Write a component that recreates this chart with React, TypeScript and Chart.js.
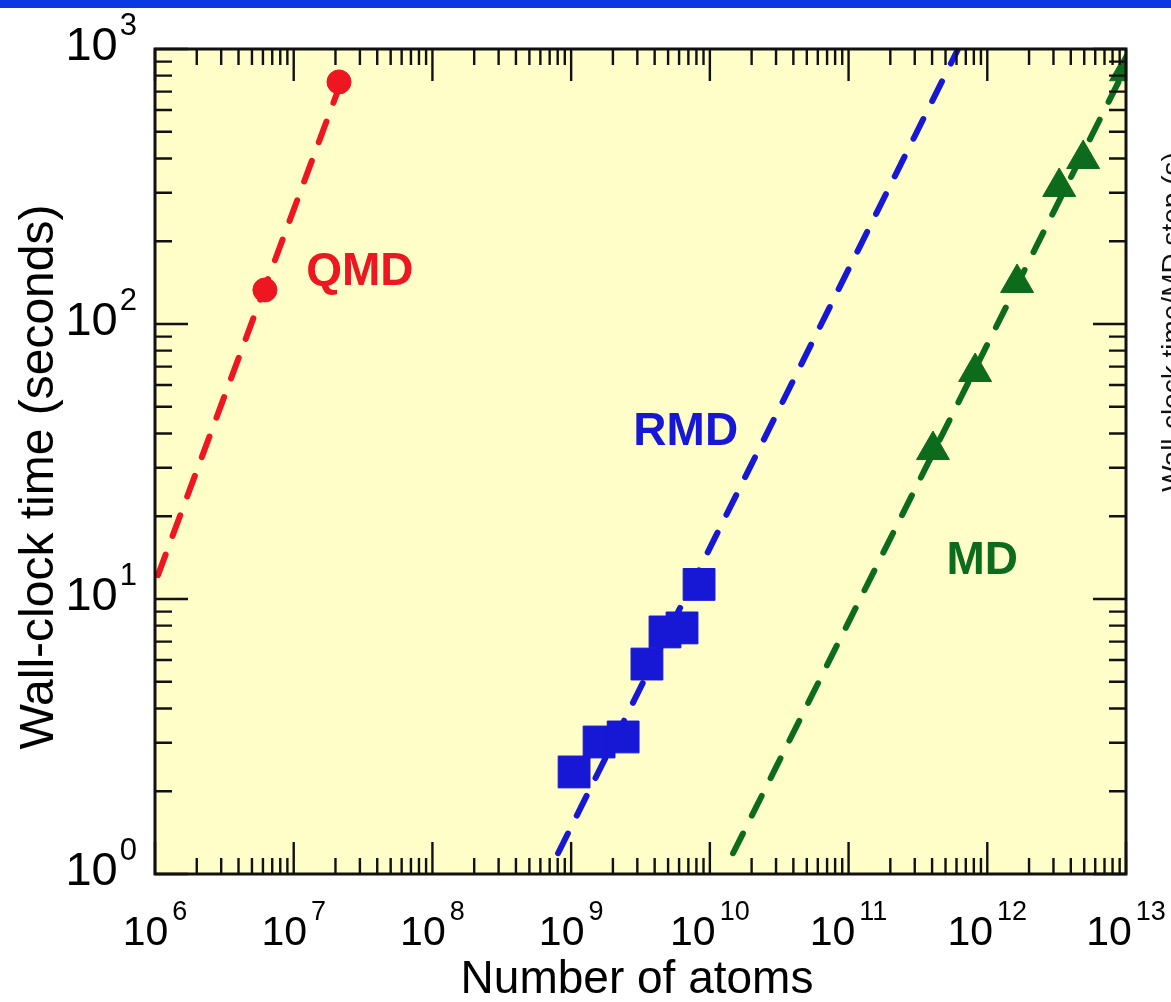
import React, { useEffect, useRef } from 'react';
import { Chart, registerables } from 'chart.js';

Chart.register(...registerables);

// ---------- data ----------
const qmdPoints = [
  { x: 6.2e6, y: 133 },
  { x: 2.12e7, y: 759 },
];
const qmdFit = [
  { x: 1.05e6, y: 12.2 },
  { x: 2.2e7, y: 760 },
];
const rmdPoints = [
  { x: 1.05e9, y: 2.35 },
  { x: 1.59e9, y: 3.02 },
  { x: 2.37e9, y: 3.15 },
  { x: 3.52e9, y: 5.8 },
  { x: 4.75e9, y: 7.59 },
  { x: 6.3e9, y: 7.85 },
  { x: 8.36e9, y: 11.3 },
];
const rmdFit = [
  { x: 8.05e8, y: 1.19 },
  { x: 6.1e11, y: 990 },
];
const mdPoints = [
  { x: 4.06e11, y: 34.8 },
  { x: 8.17e11, y: 66.9 },
  { x: 1.64e12, y: 141 },
  { x: 3.3e12, y: 315 },
  { x: 4.91e12, y: 398 },
  { x: 1.0e13, y: 830 },
];
const mdFit = [
  { x: 1.47e10, y: 1.19 },
  { x: 1.0e13, y: 860 },
];

const X_EXPONENTS = [6, 7, 8, 9, 10, 11, 12, 13];
const Y_EXPONENTS = [0, 1, 2, 3];
const MINOR_MULTIPLIERS = [2, 3, 4, 5, 6, 7, 8, 9];

const SERIES_NAMES = ['QMD', 'RMD', 'MD'];
const X_TITLE = 'Number of atoms';
const Y_TITLE = 'Wall-clock time (seconds)';
const RIGHT_TITLE = 'Wall-clock time/MD step (s)';

// ---------- styles ----------
const RED = '#EE1620';
const BLUE = '#1717D6';
const GREEN = '#0D6B1D';
const PLOT_BG = '#FFFDC8';
const BAR_BLUE = '#0A38E4';
const FONT = "'Liberation Sans', Arial, Helvetica, sans-serif";

const W = 1171;
const H = 1002;

function drawPow(
  ctx: CanvasRenderingContext2D,
  exp: number,
  anchorX: number,
  baseY: number,
  supY: number,
  baseSize: number,
  supSize: number,
  align: 'right' | 'center',
  gap: number
) {
  ctx.font = `${baseSize}px ${FONT}`;
  const bw = ctx.measureText('10').width;
  ctx.font = `${supSize}px ${FONT}`;
  const sw = ctx.measureText(String(exp)).width;
  const total = bw + gap + sw;
  const left = align === 'right' ? anchorX - total : anchorX - total / 2;
  ctx.textAlign = 'left';
  ctx.textBaseline = 'alphabetic';
  ctx.font = `${baseSize}px ${FONT}`;
  ctx.fillText('10', left, baseY);
  ctx.font = `${supSize}px ${FONT}`;
  ctx.fillText(String(exp), left + bw + gap, supY);
}

const decorPlugin = {
  id: 'decor',
  beforeDraw(chart: any) {
    const { ctx, chartArea: a, width } = chart;
    ctx.save();
    ctx.fillStyle = '#ffffff';
    ctx.fillRect(0, 0, width, chart.height);
    ctx.fillStyle = BAR_BLUE;
    ctx.fillRect(0, 0, width, 8);
    ctx.fillStyle = PLOT_BG;
    ctx.fillRect(a.left, a.top, a.right - a.left, a.bottom - a.top);
    ctx.restore();
  },
  afterDraw(chart: any) {
    const { ctx, chartArea: a } = chart;
    const xs = chart.scales.x;
    const ys = chart.scales.y;
    ctx.save();
    ctx.strokeStyle = '#111111';
    ctx.lineCap = 'butt';

    // ticks, x (bottom and top, inward)
    ctx.lineWidth = 2.4;
    X_EXPONENTS.forEach((e, i) => {
      const v = Math.pow(10, e);
      const px = xs.getPixelForValue(v);
      ctx.beginPath();
      ctx.moveTo(px, a.bottom);
      ctx.lineTo(px, a.bottom - 32);
      ctx.moveTo(px, a.top);
      ctx.lineTo(px, a.top + 32);
      ctx.stroke();
      if (i < X_EXPONENTS.length - 1) {
        MINOR_MULTIPLIERS.forEach((m) => {
          const p = xs.getPixelForValue(m * v);
          ctx.beginPath();
          ctx.moveTo(p, a.bottom);
          ctx.lineTo(p, a.bottom - 16);
          ctx.moveTo(p, a.top);
          ctx.lineTo(p, a.top + 16);
          ctx.stroke();
        });
      }
    });
    // ticks, y (left and right, inward)
    Y_EXPONENTS.forEach((e, i) => {
      const v = Math.pow(10, e);
      const py = ys.getPixelForValue(v);
      ctx.beginPath();
      ctx.moveTo(a.left, py);
      ctx.lineTo(a.left + 33, py);
      ctx.moveTo(a.right, py);
      ctx.lineTo(a.right - 33, py);
      ctx.stroke();
      if (i < Y_EXPONENTS.length - 1) {
        MINOR_MULTIPLIERS.forEach((m) => {
          const p = ys.getPixelForValue(m * v);
          ctx.beginPath();
          ctx.moveTo(a.left, p);
          ctx.lineTo(a.left + 17, p);
          ctx.moveTo(a.right, p);
          ctx.lineTo(a.right - 17, p);
          ctx.stroke();
        });
      }
    });

    // frame
    ctx.lineWidth = 3;
    ctx.strokeRect(a.left, a.top, a.right - a.left, a.bottom - a.top);

    // tick labels
    ctx.fillStyle = '#000000';
    Y_EXPONENTS.forEach((e) => {
      const py = ys.getPixelForValue(Math.pow(10, e));
      drawPow(ctx, e, a.left - 18, py + 11, py - 14, 47, 31, 'right', 2);
    });
    X_EXPONENTS.forEach((e) => {
      const px = xs.getPixelForValue(Math.pow(10, e));
      drawPow(ctx, e, px, a.bottom + 71, a.bottom + 46, 41, 27, 'center', 4);
    });

    // axis titles
    ctx.textAlign = 'center';
    ctx.textBaseline = 'alphabetic';
    ctx.font = `46px ${FONT}`;
    ctx.fillText(X_TITLE, 637, a.bottom + 119);

    ctx.save();
    ctx.translate(53, 477);
    ctx.rotate(-Math.PI / 2);
    ctx.font = `48px ${FONT}`;
    ctx.fillText(Y_TITLE, 0, 0);
    ctx.restore();

    ctx.save();
    ctx.translate(1181, 322);
    ctx.rotate(-Math.PI / 2);
    ctx.font = `28px ${FONT}`;
    ctx.fillStyle = '#111111';
    ctx.fillText(RIGHT_TITLE, 0, 0);
    ctx.restore();

    // series labels
    const labelSpots = [
      { x: 3.0e7, y: 157, color: RED },
      { x: 6.7e9, y: 41.2, color: BLUE },
      { x: 9.2e11, y: 13.9, color: GREEN },
    ];
    ctx.font = `bold 46px ${FONT}`;
    ctx.textAlign = 'center';
    ctx.textBaseline = 'middle';
    SERIES_NAMES.forEach((name, i) => {
      const s = labelSpots[i];
      ctx.fillStyle = s.color;
      ctx.fillText(name, xs.getPixelForValue(s.x), ys.getPixelForValue(s.y) + 2);
    });

    ctx.restore();
  },
};

export default function App() {
  const canvasRef = useRef<HTMLCanvasElement | null>(null);

  useEffect(() => {
    const canvas = canvasRef.current;
    if (!canvas) return;
    const lineDs = (data: any[], color: string) => ({
      data,
      showLine: true,
      borderColor: color,
      backgroundColor: color,
      borderWidth: 6,
      borderDash: [22, 20],
      borderCapStyle: 'round',
      pointRadius: 0,
      pointHoverRadius: 0,
      order: 2,
    });
    const pointDs = (data: any[], color: string, style: string, radius: number) => ({
      data,
      showLine: false,
      pointStyle: style,
      pointRadius: radius,
      pointHoverRadius: radius,
      backgroundColor: color,
      borderColor: color,
      borderWidth: 1,
      order: 1,
    });
    const chart = new Chart(canvas, {
      type: 'scatter',
      data: {
        datasets: [
          { label: 'QMD fit', ...lineDs(qmdFit, RED) },
          { label: 'RMD fit', ...lineDs(rmdFit, BLUE) },
          { label: 'MD fit', ...lineDs(mdFit, GREEN) },
          { label: 'QMD', ...pointDs(qmdPoints, RED, 'circle', 12) },
          { label: 'RMD', ...pointDs(rmdPoints, BLUE, 'rect', 22.5) },
          { label: 'MD', ...pointDs(mdPoints, GREEN, 'triangle', 19) },
        ] as any,
      },
      options: {
        responsive: false,
        devicePixelRatio: 1,
        animation: false,
        events: [],
        layout: { padding: { left: 155, top: 49, right: W - 1126, bottom: H - 874 } },
        plugins: { legend: { display: false }, tooltip: { enabled: false } },
        scales: {
          x: { type: 'logarithmic', min: 1e6, max: 1e13, display: false },
          y: { type: 'logarithmic', min: 1, max: 1000, display: false },
        },
      } as any,
      plugins: [decorPlugin],
    });
    return () => chart.destroy();
  }, []);

  return (
    <div style={{ position: 'fixed', left: 0, top: 0, width: W, height: H, background: '#fff' }}>
      <canvas ref={canvasRef} width={W} height={H} style={{ display: 'block', width: W, height: H }} />
    </div>
  );
}
